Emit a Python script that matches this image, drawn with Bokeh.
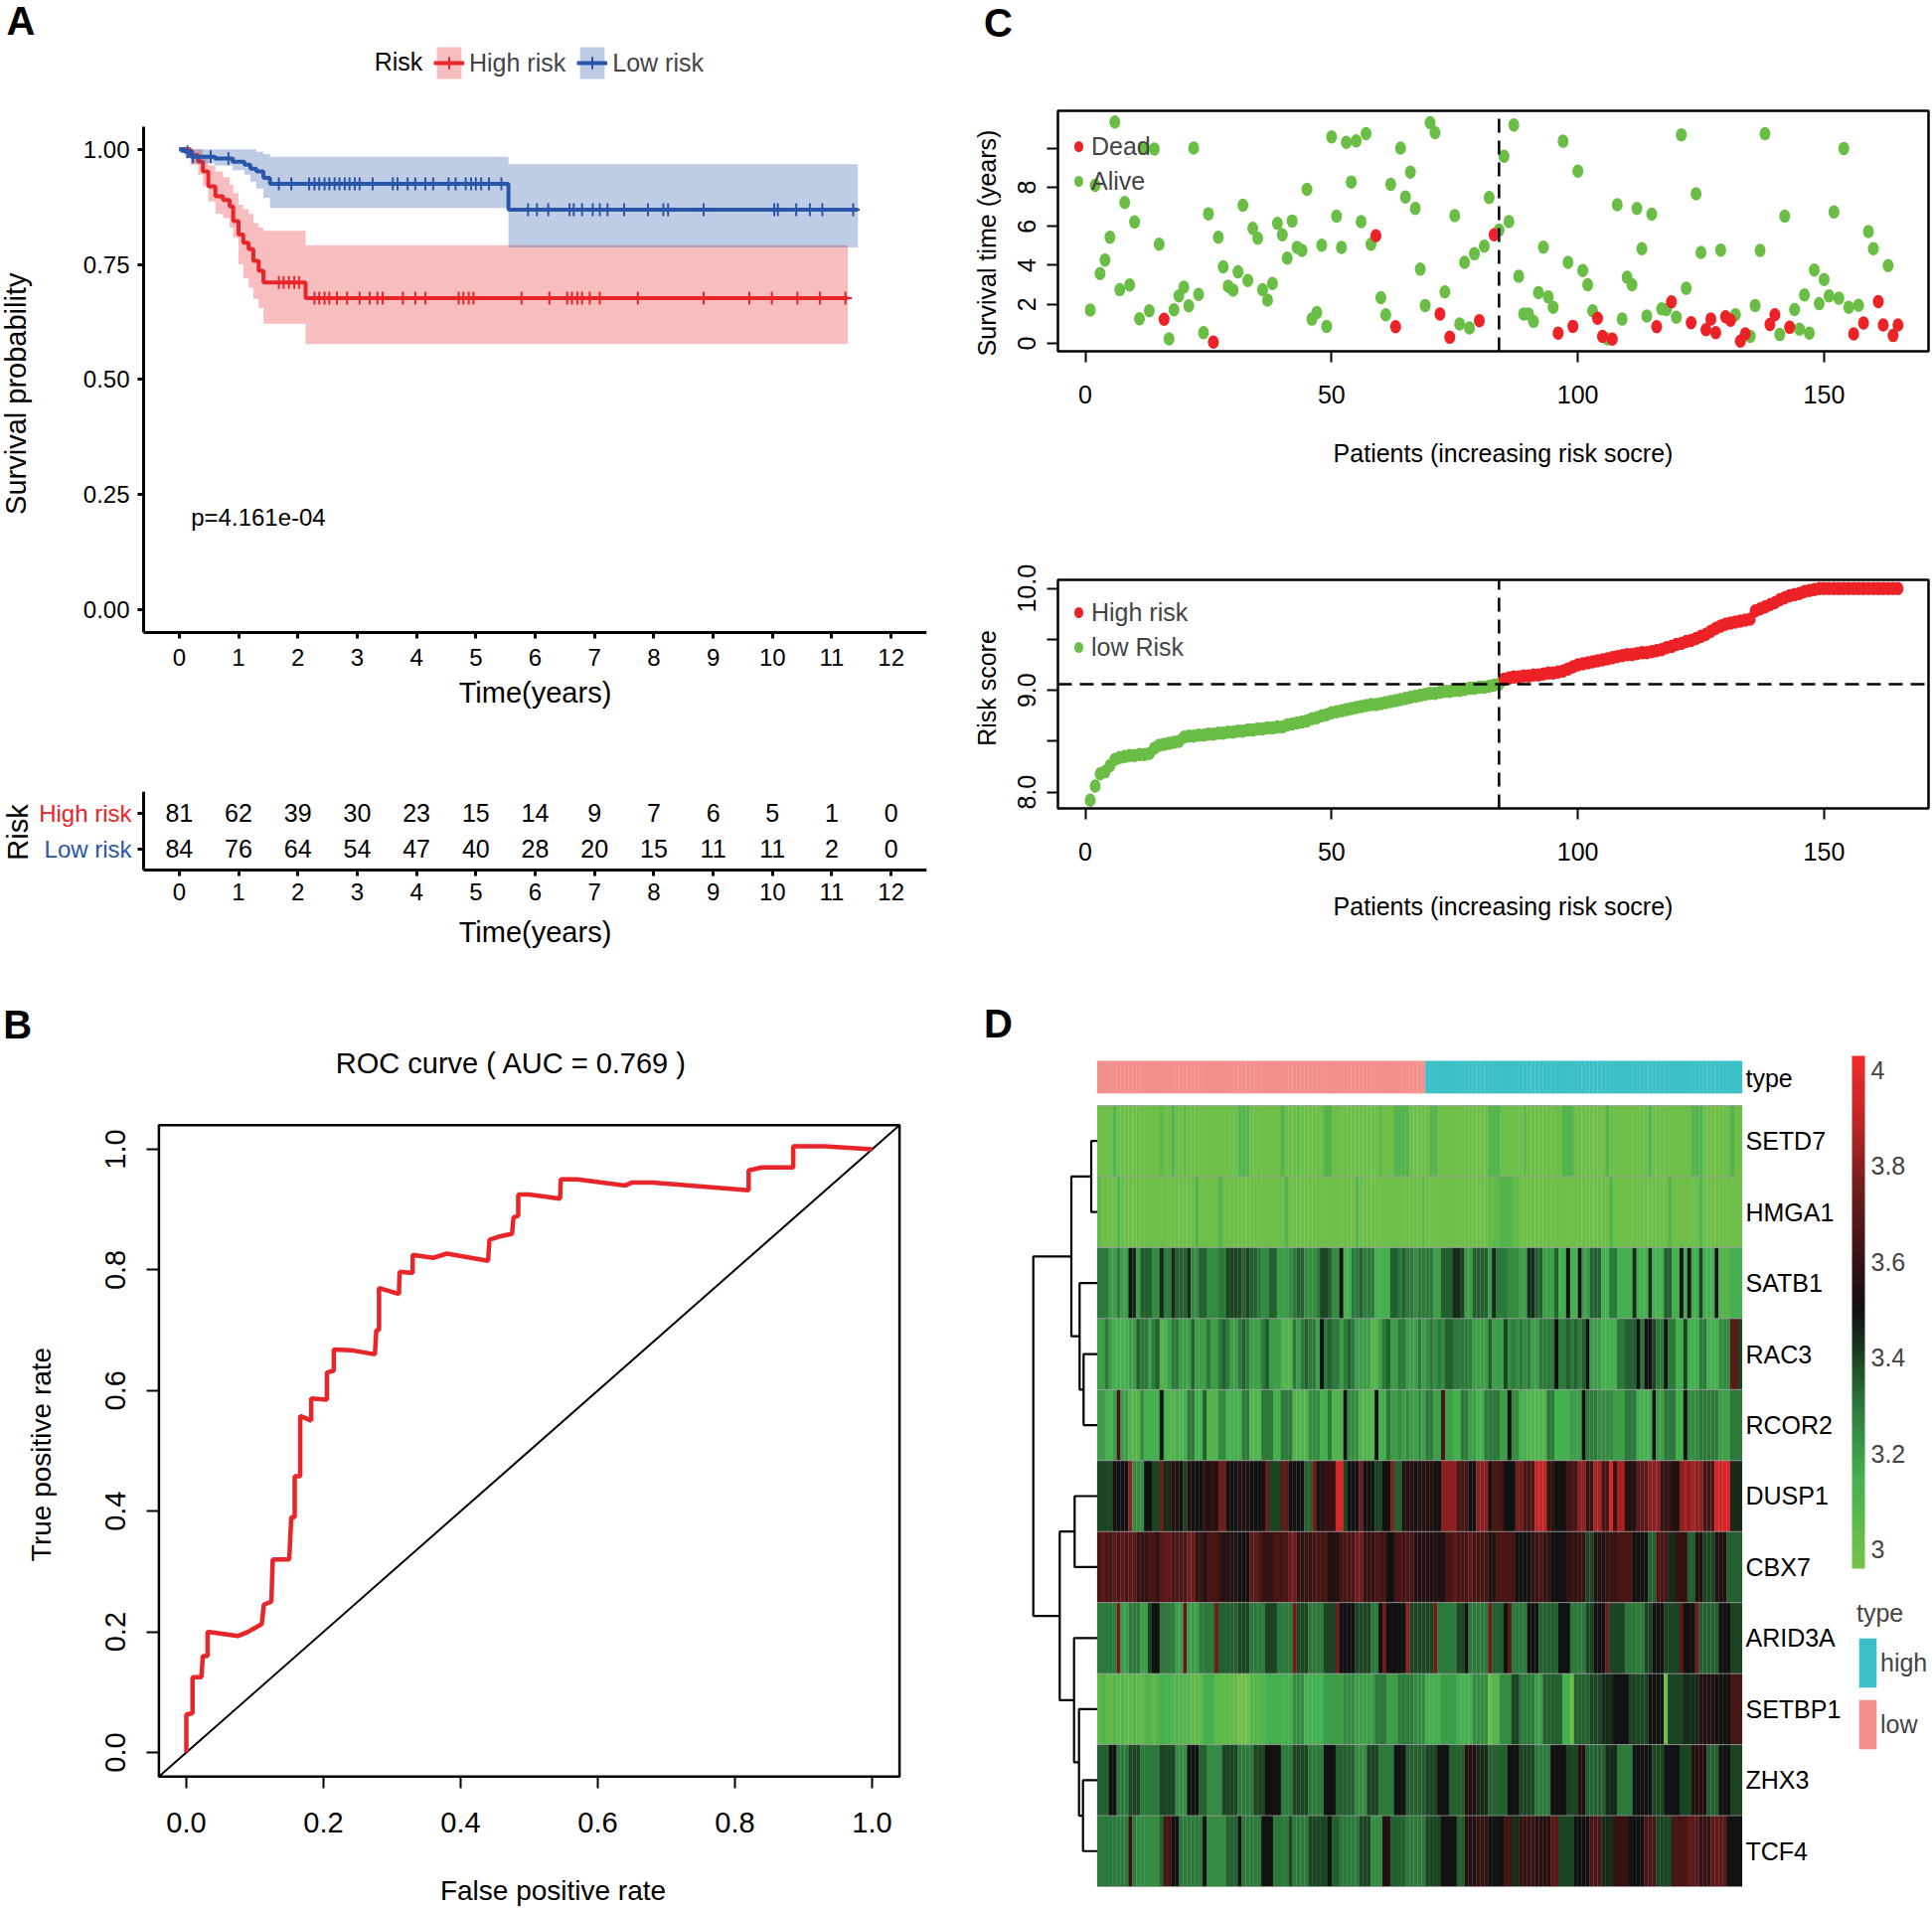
import numpy as np
from bokeh.plotting import figure
from bokeh.models import (Range1d, FixedTicker, PrintfTickFormatter, Label, Legend,
                          LegendItem, ColorBar, LinearColorMapper, ColumnDataSource)
from bokeh.layouts import row, column
from bokeh.embed import file_html
from bokeh.resources import INLINE
from bokeh.core.properties import value

FONT = "Liberation Sans"
RED = "#E8262A"
BLUE = "#2A56A8"
DOT_RED = "#EC2227"
DOT_GREEN = "#6ABD45"

# ---------------- Panel A : Kaplan-Meier ----------------
km_high_t = [0, 0.19, 0.32, 0.40, 0.49, 0.61, 0.74, 0.85, 0.91, 1.00, 1.08, 1.17, 1.25, 1.34, 1.42, 2.13, 11.27]
km_high_s = [1.0, 0.988, 0.973, 0.952, 0.920, 0.898, 0.890, 0.876, 0.844, 0.815, 0.797, 0.783, 0.758, 0.736, 0.711, 0.677, 0.677]
km_high_up = [1.0, 1.0, 1.0, 0.985, 0.965, 0.952, 0.940, 0.923, 0.905, 0.880, 0.870, 0.860, 0.840, 0.830, 0.823, 0.792, 0.792]
km_high_lo = [1.0, 0.966, 0.945, 0.920, 0.887, 0.860, 0.851, 0.830, 0.808, 0.750, 0.720, 0.700, 0.675, 0.655, 0.621, 0.577, 0.577]
km_low_t = [0, 0.10, 0.20, 0.60, 0.90, 1.10, 1.20, 1.30, 1.42, 1.53, 5.55, 11.44]
km_low_s = [1.0, 0.995, 0.984, 0.980, 0.973, 0.967, 0.958, 0.952, 0.938, 0.925, 0.869, 0.869]
km_low_up = [1.0, 1.0, 1.0, 1.0, 1.0, 1.0, 1.0, 0.995, 0.990, 0.984, 0.968, 0.968]
km_low_lo = [1.0, 0.985, 0.970, 0.965, 0.955, 0.945, 0.930, 0.915, 0.895, 0.873, 0.787, 0.787]
cens_high = [1.68, 1.76, 1.85, 1.94, 2.02, 2.28, 2.36, 2.45, 2.53, 2.66, 2.83, 3.04, 3.21, 3.34, 3.43,
             3.77, 3.98, 4.15, 4.71, 4.79, 4.88, 4.96, 5.77, 6.24, 6.54, 6.62, 6.71, 6.79, 6.92, 7.09,
             7.73, 8.84, 9.61, 9.99, 10.42, 10.80, 11.23]
cens_low = [0.14, 0.23, 0.53, 0.83, 1.68, 1.89, 2.19, 2.28, 2.36, 2.45, 2.53, 2.62, 2.70, 2.79, 2.87,
            2.96, 3.04, 3.26, 3.60, 3.68, 3.85, 3.98, 4.15, 4.28, 4.54, 4.66, 4.83, 4.92, 5.00, 5.09,
            5.22, 5.43, 5.88, 6.03, 6.22, 6.58, 6.65, 6.79, 6.97, 7.09, 7.22, 7.50, 7.90, 8.16, 8.24,
            8.84, 10.03, 10.09, 10.40, 10.63, 10.84, 11.36]
risk_times = list(range(13))
risk_high_n = [81, 62, 39, 30, 23, 15, 14, 9, 7, 6, 5, 1, 0]
risk_low_n = [84, 76, 64, 54, 47, 40, 28, 20, 15, 11, 11, 2, 0]
pval_text = "p=4.161e-04"

# ---------------- Panel B : ROC ----------------
roc_fpr = [0, 0, 0.009, 0.009, 0.022, 0.024, 0.031, 0.031, 0.075, 0.09,
           0.11, 0.113, 0.124, 0.126, 0.15, 0.153, 0.158, 0.158, 0.166, 0.166,
           0.182, 0.182, 0.205, 0.205, 0.215, 0.215, 0.24, 0.275, 0.277, 0.281,
           0.281, 0.31, 0.311, 0.33, 0.33, 0.36, 0.38, 0.44, 0.442, 0.455,
           0.475, 0.477, 0.484, 0.484, 0.5, 0.545, 0.546, 0.57, 0.64, 0.65,
           0.68, 0.82, 0.82, 0.84, 0.885, 0.885, 0.93, 1.0]
roc_tpr = [0, 0.063, 0.065, 0.125, 0.125, 0.16, 0.16, 0.2, 0.193, 0.2,
           0.213, 0.245, 0.25, 0.32, 0.32, 0.39, 0.39, 0.458, 0.458, 0.558,
           0.55, 0.587, 0.585, 0.63, 0.633, 0.668, 0.667, 0.66, 0.70, 0.70,
           0.77, 0.76, 0.797, 0.795, 0.825, 0.82, 0.827, 0.815, 0.85, 0.855,
           0.86, 0.887, 0.89, 0.925, 0.925, 0.918, 0.95, 0.95, 0.94, 0.945,
           0.945, 0.932, 0.965, 0.97, 0.97, 1.005, 1.005, 1.0]
roc_title = "ROC curve ( AUC =  0.769 )"

# ---------------- Panel C : risk plots ----------------
surv_time = [1.70, 8.10, 3.58, 4.27, 5.44, 11.35, 2.75, 7.22, 2.99, 6.22,
             1.26, 10.01, 1.67, 9.96, 5.08, 1.23, 0.23, 1.72, 2.43, 2.88,
             1.92, 10.01, 2.51, 0.55, 6.64, 0.06, 5.44, 3.92, 2.93, 2.72,
             3.66, 7.08, 3.22, 5.90, 5.39, 2.75, 2.21, 3.07, 6.15, 5.56,
             4.37, 6.27, 4.92, 4.76, 7.89, 1.24, 1.58, 5.03, 0.87, 10.58,
             6.52, 4.92, 10.30, 8.27, 10.38, 6.24, 10.75, 5.08, 5.51, 2.34,
             1.46, 8.15, 0.85, 10.01, 7.50, 8.77, 6.91, 3.80, 1.94, 11.31,
             10.80, 1.50, 2.63, 0.31, 6.54, 0.99, 4.15, 0.79, 4.59, 1.16,
             4.98, 7.47, 5.56, 5.81, 9.59, 6.24, 11.19, 3.44, 1.50, 1.50,
             1.12, 2.60, 4.93, 2.38, 1.84, 0.52, 10.36, 4.15, 0.87, 8.82,
             3.73, 3.00, 1.67, 1.28, 0.35, 0.23, 0.21, 7.11, 1.24, 3.39,
             3.00, 6.91, 4.85, 1.40, 6.62, 0.85, 1.77, 1.73, 2.12, 1.33,
             10.69, 2.82, 1.06, 7.67, 4.66, 0.70, 1.24, 0.55, 4.78, 1.36,
             1.18, 1.46, 0.11, 0.48, 0.36, 1.94, 4.76, 10.75, 0.97, 1.46,
             0.45, 6.52, 0.82, 1.73, 0.72, 2.48, 0.52, 3.75, 2.04, 3.27,
             2.43, 6.74, 2.31, 9.99, 1.84, 0.48, 1.95, 1.04, 5.73, 4.85,
             2.14, 0.94, 3.98, 0.40, 0.94]
surv_status = [0, 0, 0, 0, 0, 0, 0, 0, 0, 0,
               0, 0, 0, 0, 0, 1, 0, 0, 0, 0,
               0, 0, 0, 0, 0, 1, 0, 0, 0, 0,
               0, 0, 0, 0, 0, 0, 0, 0, 0, 0,
               0, 0, 0, 0, 0, 0, 0, 0, 0, 0,
               0, 0, 0, 0, 0, 0, 0, 0, 1, 0,
               0, 0, 1, 0, 0, 0, 0, 0, 0, 0,
               0, 1, 0, 1, 0, 0, 0, 0, 0, 1,
               0, 0, 1, 0, 0, 0, 0, 0, 0, 0,
               0, 0, 0, 0, 0, 1, 0, 0, 1, 0,
               0, 0, 0, 1, 1, 0, 1, 0, 0, 0,
               0, 0, 0, 0, 0, 1, 0, 0, 1, 0,
               0, 0, 1, 0, 0, 1, 1, 1, 0, 1,
               1, 0, 1, 1, 0, 0, 0, 0, 1, 1,
               0, 0, 1, 0, 0, 0, 0, 0, 0, 0,
               0, 0, 0, 0, 0, 1, 0, 1, 0, 0,
               1, 1, 0, 1, 1]
risk_score = [7.92, 8.06, 8.18, 8.20, 8.26, 8.32, 8.34, 8.35, 8.36, 8.36,
              8.37, 8.37, 8.38, 8.43, 8.46, 8.47, 8.48, 8.49, 8.50, 8.54,
              8.55, 8.55, 8.56, 8.56, 8.57, 8.57, 8.58, 8.58, 8.59, 8.59,
              8.60, 8.60, 8.61, 8.61, 8.62, 8.62, 8.63, 8.63, 8.64, 8.64,
              8.66, 8.67, 8.68, 8.69, 8.70, 8.72, 8.73, 8.75, 8.76, 8.78,
              8.79, 8.80, 8.81, 8.82, 8.83, 8.84, 8.85, 8.86, 8.86, 8.87,
              8.88, 8.89, 8.90, 8.91, 8.92, 8.93, 8.94, 8.95, 8.96, 8.97,
              8.97, 8.98, 8.99, 8.99, 9.00, 9.00, 9.01, 9.02, 9.02, 9.03,
              9.03, 9.04, 9.05, 9.06, 9.11, 9.12, 9.13, 9.13, 9.14, 9.14,
              9.15, 9.15, 9.16, 9.17, 9.17, 9.18, 9.19, 9.21, 9.23, 9.25,
              9.26, 9.27, 9.28, 9.29, 9.30, 9.31, 9.32, 9.33, 9.34, 9.35,
              9.35, 9.36, 9.37, 9.37, 9.38, 9.39, 9.40, 9.42, 9.43, 9.45,
              9.46, 9.48, 9.49, 9.51, 9.53, 9.55, 9.58, 9.61, 9.63, 9.65,
              9.66, 9.67, 9.68, 9.69, 9.70, 9.78, 9.80, 9.82, 9.84, 9.86,
              9.89, 9.91, 9.93, 9.94, 9.95, 9.97, 9.98, 9.99, 10.0, 10.0,
              10.0, 10.0, 10.0, 10.0, 10.0, 10.0, 10.0, 10.0, 10.0, 10.0,
              10.0, 10.0, 10.0, 10.0, 10.0]
n_low = risk_low_n[0]           # 84 low-risk patients

# ---------------- Panel D : heatmap ----------------
heat_genes = ["SETD7", "HMGA1", "SATB1", "RAC3", "RCOR2", "DUSP1", "CBX7",
              "ARID3A", "SETBP1", "ZHX3", "TCF4"]
# one character per patient: level k -> expression 3.0 + 0.05*k
LEVELS = "0123456789ABCDEFGHIJK"
heat_low = [
    "0000200000 0000001002 0010000000 0000002220 0000000200 0100000022 0000000000 0010002222 0000",
    "1000020000 0000000000 0000020000 0200000000 0000000020 0000000000 0000002000 0000000000 0001",
    "66644644A9 4777559669 7779557755 5668888787 7655774445 6775556887 55A3366766 6333377676 6566",
    "4464333344 7664672246 6444744464 4676446764 4467444222 6467664A67 6646764444 2246744664 4464",
    "44334D4422 253333A322 3236633722 2553333662 2266633666 2222555336 222A555222 2A33644545 4454",
    "8888AAAAG5 55AA88F99B BA8BAAACBC BFFAAABBBA AAAF888EEA AAA77FBBCC CJJ8AAAFAA A88AAG77BB BABB",
    "DEDDEDEDEE CCCDDCEEED DDDFFCCBDD DCBBBBAAAE EDCCCDDDDF FCCCCDDDDB BBDDDDFFCC CDDDAADDDD DBBB",
    "66666F4466 6448AA6666 44E4446666 F777778886 6668886666 F888666688 8FAAAA8888 66AFAAAAAG 8888",
    "1211212112 1122123332 2222111333 1111110002 2223333333 5553333344 4445554444 4666444666 6555",
    "777AA66688 8666668888 555AAA7755 5588886666 888AAAA666 88886666AA A777775558 886666AAA7 7777",
    "66666666C6 5555557DDA A666666A55 555777A666 66AAA66668 666688888A 7766666888 555BB77776 6666",
]
heat_high = [
    "0220000000 0000002220 0000010000 0000022200 0000002000 0000000200 0000000022 2000000020 0",
    "0000000000 0000001112 2211000000 0000000000 0000000200 0000000000 0020000000 2000000000 0",
    "6644777998 4477774966 6555449977 444733A33A 4477733663 3339333933 37733A3A33 8333A22233 3",
    "5656577666 6644447444 8565656446 666A667676 7A44433336 6777A6AA86 6A66338333 66333555EE 8",
    "6644D44336 6443366664 4A55332222 2663333444 A666555544 46663333A4 466633A555 6666644466 6",
    "BBAAGGGGDD DAAGGGADDD AAAFFDDDII ICCAAADDDG GCCHHDDJCH HBBBEEEGGG CCCBBGHGHG GDDDJJJJ99 9",
    "BBBBBDDEDD DEDDDDBBDD DDDAAAACCD CCAAAACCCC C88BBBCCCD DDDAAAA77D DD99CCC77B B888BBB777 7",
    "88F6666688 A66666F777 AE6666AAA7 7777AAA666 688AAAF888 86666688AA A8888EAAAF 77777AAA88 8",
    "3333444433 3355550225 5588666644 7777733077 77888999AA AA88888AAA A088889999 BBBBAAAADD D",
    "888AAA7777 BBB9997777 7AAA888866 66AAAA888B B777779996 666AAAAA88 8AAAA888BB BB777AAA88 8",
    "8888AAAA77 BBBCCCAAAA DD99CCCCBB BBEE8888AA AADDD999CC CCAAAADDD8 888DDDDEEE CCCEEEEAAA A",
]
# dendrogram merges (child a, child b, height); ints = gene rows, strings = earlier nodes
dendro = [(0, 1, 6.0), (3, 4, 13.7), (2, "n1", 17.7), ("n0", "n2", 26.0),
          (5, 6, 22.7), (9, 10, 14.3), (8, "n5", 18.3), (7, "n6", 23.3),
          ("n4", "n7", 37.7), ("n3", "n8", 64.3)]


def base_fig(w, h, xr, yr, bl=0, br=0, bt=0, bb=0, axes=True):
    kw = {} if axes else dict(x_axis_location=None, y_axis_location=None)
    p = figure(width=w, height=h, x_range=Range1d(*xr), y_range=Range1d(*yr),
               output_backend="svg", toolbar_location=None, title=None,
               min_border_left=bl, min_border_right=br, min_border_top=bt,
               min_border_bottom=bb, frame_align=False, **kw)
    p.grid.visible = False
    p.outline_line_color = None
    p.background_fill_color = "white"
    p.border_fill_color = "white"
    return p


def style_axis(ax, fs, tick_out, lw, standoff, line=True):
    ax.axis_line_width = lw
    if not line:
        ax.axis_line_color = None
    ax.major_tick_line_width = lw
    ax.major_tick_out = tick_out
    ax.major_tick_in = 0
    ax.minor_tick_line_color = None
    ax.major_label_text_font = FONT
    ax.major_label_text_font_size = f"{fs}px"
    ax.major_label_text_color = "black"
    ax.major_label_standoff = standoff


def text_label(p, txt, x, y, size=25, align="left", color="black", bold=False, vertical=False):
    p.add_layout(Label(x=x, y=y, text=txt, text_font=FONT, text_font_size=f"{size}px",
                       text_font_style="bold" if bold else "normal", text_color=color,
                       text_align=align, text_baseline="middle",
                       angle=np.pi / 2 if vertical else 0))


def box(p, x0, x1, y0, y1):
    p.quad(left=[x0], right=[x1], bottom=[y0], top=[y1], fill_color=None,
           line_color="black", line_width=2.5)


# ================= A: KM plot (frame = whole figure, axes at fixed positions) =================
KPX = 788 / 13.2                 # px per year
KPY = 463.0                      # px per unit survival
KM_XL = -0.6 - 144 / KPX
km = base_fig(958, 720, (KM_XL, 12.6), (-0.05 - 84 / KPY, -0.05 + 636 / KPY), 0, 26, 0, 0)


def km_curve(t, s, lo, up, color, cens):
    band = km.varea_step(x=t, y1=lo, y2=up, step_mode="after", fill_color=color, fill_alpha=0.3)
    line = km.step(t, s, mode="after", line_color=color, line_width=4)
    idx = np.searchsorted(np.array(t), np.array(cens), side="right") - 1
    cy = np.array(s)[idx]
    cr = km.scatter(cens, cy, marker="cross", size=13, line_color=color, line_width=2)
    return [band, line, cr]


r_high = km_curve(km_high_t, km_high_s, km_high_lo, km_high_up, RED, cens_high)
r_low = km_curve(km_low_t, km_low_s, km_low_lo, km_low_up, BLUE, cens_low)
km.xaxis.ticker = FixedTicker(ticks=risk_times)
km.yaxis.ticker = FixedTicker(ticks=[0, 0.25, 0.5, 0.75, 1.0])
km.yaxis.formatter = PrintfTickFormatter(format="%.2f")
km.yaxis.fixed_location = -0.6
km.xaxis.fixed_location = -0.05
km.yaxis.bounds = (-0.05, 1.05)
km.xaxis.bounds = (-0.6, 12.6)
style_axis(km.xaxis[0], 24, 6, 3, 10)
style_axis(km.yaxis[0], 24, 6, 3, 8)
text_label(km, "Time(years)", 6.0, (614 - 698) / KPY, size=29, align="center")
text_label(km, "Survival probability", (16 - 180) / KPX, 0.469, size=29, align="center",
           vertical=True)
text_label(km, pval_text, 0.2, 0.2, size=24)
km_leg = Legend(items=[LegendItem(label="High risk", renderers=r_high),
                       LegendItem(label="Low risk", renderers=r_low)],
                orientation="horizontal", location=(436, 553 + 84), glyph_width=31,
                glyph_height=40, label_text_font=FONT, label_text_font_size="25px",
                label_standoff=5, spacing=11, padding=0, margin=0, border_line_color=None,
                background_fill_alpha=0)
km.add_layout(km_leg)
text_label(km, "Risk", 3.29, 1.19)
text_label(km, "A", -2.67, 1.279, size=40, align="center", bold=True)

# ================= A: risk table =================
TY0, TY1 = 0.417, 2.61
TPY = 79 / (TY1 - TY0)
tab = base_fig(958, 240, (KM_XL, 12.6), (TY0 - 85 / TPY, TY1), 0, 26, 76, 0)
tab.text(x=risk_times, y=[2] * 13, text=[str(v) for v in risk_high_n], text_align="center",
         text_baseline="middle", text_font=value(FONT), text_font_size="25px")
tab.text(x=risk_times, y=[1] * 13, text=[str(v) for v in risk_low_n], text_align="center",
         text_baseline="middle", text_font=value(FONT), text_font_size="25px")
tab.xaxis.ticker = FixedTicker(ticks=risk_times)
tab.yaxis.ticker = FixedTicker(ticks=[1, 2])
tab.yaxis.major_label_overrides = {1: "", 2: ""}
tab.yaxis.fixed_location = -0.6
tab.xaxis.fixed_location = TY0
tab.yaxis.bounds = (TY0, TY1)
tab.xaxis.bounds = (-0.6, 12.6)
style_axis(tab.xaxis[0], 24, 6, 3, 7)
style_axis(tab.yaxis[0], 24, 6, 3, 5)
text_label(tab, "Time(years)", 6.0, TY1 - (937 - 796) / TPY, size=29, align="center")
text_label(tab, "Risk", (18 - 180) / KPX, TY1 - (837 - 796) / TPY, size=29, align="center",
           vertical=True)
text_label(tab, "High risk", -0.80, 2, size=24, align="right", color=RED)
text_label(tab, "Low risk", -0.80, 1, size=24, align="right", color=BLUE)

# ================= B: ROC (frame = whole figure, box drawn explicitly) =================
roc = base_fig(958, 958, (-187 / 690, (958 - 187) / 690), ((1763 - 1918) / 607, (1763 - 960) / 607))
box(roc, -0.04, 1.04, -0.04, 1.04)
roc.line([-0.04, 1.04], [-0.04, 1.04], line_color="black", line_width=2)
roc.line(roc_fpr, roc_tpr, line_color=RED, line_width=4.5)
ticks01 = [0, 0.2, 0.4, 0.6, 0.8, 1.0]
for ax in (roc.xaxis[0], roc.yaxis[0]):
    ax.ticker = FixedTicker(ticks=ticks01)
    ax.formatter = PrintfTickFormatter(format="%.1f")
    ax.fixed_location = -0.04
roc.yaxis.major_label_orientation = "vertical"
style_axis(roc.xaxis[0], 29, 12, 2, 24, line=False)
style_axis(roc.yaxis[0], 29, 12, 2, 22, line=False)
text_label(roc, "False positive rate", (556 - 187) / 690, (1763 - 1902) / 607, size=28,
           align="center")
text_label(roc, "True positive rate", (41 - 187) / 690, (1763 - 1463) / 607, size=28,
           align="center", vertical=True)
text_label(roc, roc_title, 0.48, 1.143, size=29, align="center")
text_label(roc, "B", -0.246, 1.206, size=40, align="center", bold=True)

# ================= C: survival status =================
CX0, CX1 = -5.56, 171.2
CPX = 876 / (CX1 - CX0)
patients = list(range(1, len(surv_time) + 1))
UY0, UY1 = -0.41, 11.92
UPY = 242 / (UY1 - UY0)
cup = base_fig(984, 470, (CX0 - 106 / CPX, CX1 + 2 / CPX), (UY0 - 117 / UPY, UY1 + 111 / UPY))
box(cup, CX0, CX1, UY0, UY1)
dead_src = ColumnDataSource(dict(x=[p for p, s in zip(patients, surv_status) if s == 1],
                                 y=[t for t, s in zip(surv_time, surv_status) if s == 1]))
alive_src = ColumnDataSource(dict(x=[p for p, s in zip(patients, surv_status) if s == 0],
                                  y=[t for t, s in zip(surv_time, surv_status) if s == 0]))
DW, DH = 11, 13.5
r_alive = cup.ellipse("x", "y", width=DW, height=DH, width_units="screen", height_units="screen",
                      source=alive_src, fill_color=DOT_GREEN, line_color=None)
r_dead = cup.ellipse("x", "y", width=DW, height=DH, width_units="screen", height_units="screen",
                     source=dead_src, fill_color=DOT_RED, line_color=None)
cup.segment(x0=[n_low], x1=[n_low], y0=[UY0], y1=[UY1], line_color="black",
            line_dash="14 8", line_width=2.5)
cup.xaxis.ticker = FixedTicker(ticks=[0, 50, 100, 150])
cup.yaxis.ticker = FixedTicker(ticks=[0, 2, 4, 6, 8, 10])
cup.yaxis.major_label_overrides = {10: ""}
cup.yaxis.major_label_orientation = "vertical"
cup.xaxis.fixed_location = UY0
cup.yaxis.fixed_location = CX0
style_axis(cup.xaxis[0], 25, 11, 2, 23, line=False)
style_axis(cup.yaxis[0], 25, 11, 2, 11, line=False)
text_label(cup, "Patients (increasing risk socre)", CX0 + (1512 - 1064) / CPX,
           UY0 - (455 - 353) / UPY, align="center")
text_label(cup, "Survival time (years)", CX0 + (992 - 1064) / CPX, UY0 + (353 - 244) / UPY,
           align="center", vertical=True)
cup.add_layout(Legend(items=[LegendItem(label="Dead", renderers=[r_dead]),
                             LegendItem(label="Alive", renderers=[r_alive])],
                      location=(120, 271), glyph_width=14, glyph_height=34, spacing=1,
                      label_text_font=FONT, label_text_font_size="25px", label_standoff=6,
                      padding=0, margin=0, border_line_color=None, background_fill_alpha=0))
text_label(cup, "C", CX0 + (1004 - 1064) / CPX, UY0 + (353 - 22) / UPY, size=40,
           align="center", bold=True)

# ================= C: risk score =================
LY0, LY1 = 7.84, 10.085
LPY = 230 / (LY1 - LY0)
clow = base_fig(984, 490, (CX0 - 106 / CPX, CX1 + 2 / CPX), (LY0 - 147 / LPY, LY1 + 113 / LPY))
box(clow, CX0, CX1, LY0, LY1)
lo_src = ColumnDataSource(dict(x=patients[:n_low], y=risk_score[:n_low]))
hi_src = ColumnDataSource(dict(x=patients[n_low:], y=risk_score[n_low:]))
r_lo = clow.ellipse("x", "y", width=DW, height=DH, width_units="screen", height_units="screen",
                    source=lo_src, fill_color=DOT_GREEN, line_color=None)
r_hi = clow.ellipse("x", "y", width=DW, height=DH, width_units="screen", height_units="screen",
                    source=hi_src, fill_color=DOT_RED, line_color=None)
cut = risk_score[n_low - 1]
clow.segment(x0=[n_low, CX0], x1=[n_low, CX1], y0=[LY0, cut], y1=[LY1, cut],
             line_color="black", line_dash="14 8", line_width=2.5)
clow.xaxis.ticker = FixedTicker(ticks=[0, 50, 100, 150])
clow.yaxis.ticker = FixedTicker(ticks=[8.0, 8.5, 9.0, 9.5, 10.0])
clow.yaxis.formatter = PrintfTickFormatter(format="%.1f")
clow.yaxis.major_label_overrides = {8.5: "", 9.5: ""}
clow.yaxis.major_label_orientation = "vertical"
clow.xaxis.fixed_location = LY0
clow.yaxis.fixed_location = CX0
style_axis(clow.xaxis[0], 25, 11, 2, 23, line=False)
style_axis(clow.yaxis[0], 25, 11, 2, 11, line=False)
text_label(clow, "Patients (increasing risk socre)", CX0 + (1512 - 1064) / CPX,
           LY0 - (911 - 813) / LPY, align="center")
text_label(clow, "Risk score", CX0 + (992 - 1064) / CPX, LY0 + (813 - 692) / LPY,
           align="center", vertical=True)
clow.add_layout(Legend(items=[LegendItem(label="High risk", renderers=[r_hi]),
                              LegendItem(label="low Risk", renderers=[r_lo])],
                       location=(120, 292), glyph_width=14, glyph_height=34, spacing=1,
                       label_text_font=FONT, label_text_font_size="25px", label_standoff=6,
                       padding=0, margin=0, border_line_color=None, background_fill_alpha=0))

# ================= D: heatmap =================
DPX = 3.933  # px per patient column
heat = base_fig(984, 958, (-37.0, 213.2), (-0.28, 13.127), axes=False)


def hexrgb(h):
    return [int(h[i:i + 2], 16) for i in (1, 3, 5)]


anchors = [(2.96, "#76C24A"), (3.0, "#6CBF4A"), (3.15, "#45AE4F"), (3.3, "#2D783B"),
           (3.42, "#17381D"), (3.5, "#111111"), (3.6, "#351212"), (3.75, "#6E1C1C"),
           (3.9, "#C02626"), (4.03, "#F02A2A")]
pal = []
for v in np.linspace(2.96, 4.03, 128):
    for (a, ca), (b, cb) in zip(anchors[:-1], anchors[1:]):
        if a <= v <= b:
            f = (v - a) / (b - a)
            c = [round(x + (y - x) * f) for x, y in zip(hexrgb(ca), hexrgb(cb))]
            pal.append("#%02x%02x%02x" % tuple(c))
            break
mapper = LinearColorMapper(palette=pal, low=2.96, high=4.03)

hx, hy, hv = [], [], []
for gi, (lo, hi) in enumerate(zip(heat_low, heat_high)):
    codes = (lo + hi).replace(" ", "")
    assert len(codes) == 165, (heat_genes[gi], len(codes))
    for ci, ch in enumerate(codes):
        hx.append(ci + 0.5)
        hy.append(10.5 - gi)
        hv.append(3.0 + 0.05 * LEVELS.index(ch))
heat.rect(x="x", y="y", width=1.06, height=1, source=ColumnDataSource(dict(x=hx, y=hy, v=hv)),
          fill_color={"field": "v", "transform": mapper}, line_color=None)
ncol = len(hv) // len(heat_genes)
heat.segment(x0=[0] * 12, x1=[ncol] * 12, y0=list(range(12)), y1=list(range(12)),
             line_color="#9a9a9a", line_width=1, line_alpha=0.8)
# type annotation bar
t_lo = heat.rect(x=[c + 0.5 for c in range(n_low)], y=[11.4] * n_low, width=1.06, height=0.46,
                 fill_color="#F3908C", line_color=None)
t_hi = heat.rect(x=[c + 0.5 for c in range(n_low, ncol)], y=[11.4] * (ncol - n_low), width=1.06,
                 height=0.46, fill_color="#3CC0C8", line_color=None)
heat.text(x=[ncol + 0.9] * 12, y=[11.38] + [10.5 - i for i in range(11)],
          text=["type"] + heat_genes, text_align="left", text_baseline="middle",
          text_font=value(FONT), text_font_size="25px")
# dendrogram
node_pos = {}
xs, ys = [], []


def pos(k):
    if isinstance(k, int):
        return 0.0, 10.5 - k
    return node_pos[k]


for ni, (a, b, h) in enumerate(dendro):
    ha, ya = pos(a)
    hb, yb = pos(b)
    xh = -h / DPX
    xs += [[ha, xh, xh, hb]]
    ys += [[ya, ya, yb, yb]]
    node_pos["n%d" % ni] = (xh, (ya + yb) / 2)
heat.multi_line(xs, ys, line_color="black", line_width=2.2)
cb = ColorBar(color_mapper=mapper, ticker=FixedTicker(ticks=[3.0, 3.2, 3.4, 3.6, 3.8, 4.0]),
              formatter=PrintfTickFormatter(format="%.1f"),
              major_label_overrides={3.0: "3", 4.0: "4"}, width=13, height=516,
              location=(905, 340), padding=0, margin=0, label_standoff=6,
              major_tick_line_color=None, bar_line_color=None, border_line_color=None,
              major_label_text_font=FONT, major_label_text_font_size="25px",
              background_fill_alpha=0)
heat.add_layout(cb)
heat.add_layout(Legend(items=[LegendItem(label="high", renderers=[t_hi]),
                              LegendItem(label="low", renderers=[t_lo])],
                       title="type", location=(910, 152), glyph_width=22, glyph_height=62,
                       spacing=-12, padding=0, margin=0, label_standoff=2, title_standoff=4,
                       label_text_font=FONT, label_text_font_size="25px",
                       title_text_font=FONT, title_text_font_size="25px",
                       title_text_font_style="normal", border_line_color=None,
                       background_fill_alpha=0))
text_label(heat, "D", -25.3, 12.16, size=40, align="center", bold=True)

layout = row(column(km, tab, roc), column(cup, clow, heat))
open("out.html", "w").write(file_html(layout, INLINE, title="figure"))
